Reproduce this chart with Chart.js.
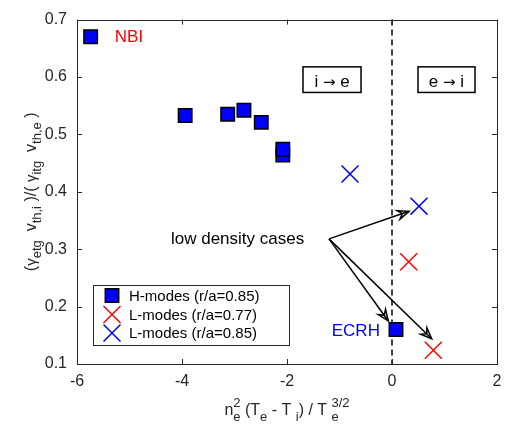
<!DOCTYPE html>
<html><head><meta charset="utf-8">
<script src="https://cdn.jsdelivr.net/npm/chart.js@4"></script>
<style>html,body{margin:0;padding:0;background:#fff;overflow:hidden}canvas{display:block}</style>
</head><body>
<canvas id="c" width="511" height="428"></canvas>
<script>
const FONT = '"Liberation Sans", Arial, Helvetica, sans-serif';
const xTicks = [-6, -4, -2, 0, 2];
const yTicks = [0.1, 0.2, 0.3, 0.4, 0.5, 0.6, 0.7];
const seriesNames = ['H-modes (r/a=0.85)', 'L-modes (r/a=0.77)', 'L-modes (r/a=0.85)'];
// H-modes (r/a=0.85)
const hX = [-5.74, -3.94, -3.13, -2.82, -2.49, -2.08, -2.08, 0.076];
const hY = [0.670, 0.533, 0.535, 0.542, 0.521, 0.464, 0.474, 0.160];
// L-modes (r/a=0.77)
const l77X = [0.318, 0.787];
const l77Y = [0.278, 0.124];
// L-modes (r/a=0.85)
const l85X = [-0.80, 0.514];
const l85Y = [0.431, 0.375];
// annotation arrows (data coords)
const arrowFrom = [-1.2, 0.318];
const arrowToX = [0.324, -0.07, 0.756];
const arrowToY = [0.366, 0.175, 0.144];

function pts(xs, ys) { return xs.map((v, i) => ({ x: v, y: ys[i] })); }

function tokW(ctx, t, main, scr) {
  if (t.t !== undefined) { ctx.font = `${t.size || main}px ${t.fam || FONT}`; return ctx.measureText(t.t).width; }
  ctx.font = `${scr}px ${FONT}`;
  return Math.max(t.sup ? ctx.measureText(t.sup).width : 0, t.sub ? ctx.measureText(t.sub).width : 0);
}
function richW(ctx, toks, main, scr) { let w = 0; for (const t of toks) w += tokW(ctx, t, main, scr); return w; }
function drawRich(ctx, toks, x, y, main, scr, up, down) {
  let cx = x;
  ctx.textBaseline = 'alphabetic'; ctx.textAlign = 'left';
  for (const t of toks) {
    const w = tokW(ctx, t, main, scr);
    if (t.t !== undefined) { ctx.font = `${t.size || main}px ${t.fam || FONT}`; ctx.fillText(t.t, cx, y + (t.dy || 0)); }
    else {
      ctx.font = `${scr}px ${FONT}`;
      if (t.sup) ctx.fillText(t.sup, cx, y - up);
      if (t.sub) ctx.fillText(t.sub, cx, y + down);
    }
    cx += w;
  }
}
function arrow(ctx, x0, y0, x1, y1) {
  const ang = Math.atan2(y1 - y0, x1 - x0);
  const L = 11, W = 4.5, N = 7;
  const c = Math.cos(ang), s = Math.sin(ang);
  ctx.beginPath(); ctx.moveTo(x0, y0); ctx.lineTo(x1, y1); ctx.stroke();
  const bx = x1 - L * c, by = y1 - L * s;
  ctx.beginPath();
  ctx.moveTo(x1, y1);
  ctx.lineTo(bx - W * s, by + W * c);
  ctx.lineTo(x1 - N * c, y1 - N * s);
  ctx.lineTo(bx + W * s, by - W * c);
  ctx.closePath();
  ctx.stroke();
}
function marker(ctx, style, x, y, color) {
  ctx.save();
  if (style === 'rect') {
    ctx.fillStyle = '#0000ff'; ctx.strokeStyle = '#000'; ctx.lineWidth = 1.5;
    ctx.fillRect(x - 6.7, y - 6.7, 13.4, 13.4); ctx.strokeRect(x - 6.7, y - 6.7, 13.4, 13.4);
  } else {
    ctx.strokeStyle = color; ctx.lineWidth = 1.5; const d = 8.5;
    ctx.beginPath(); ctx.moveTo(x - d, y - d); ctx.lineTo(x + d, y + d);
    ctx.moveTo(x - d, y + d); ctx.lineTo(x + d, y - d); ctx.stroke();
  }
  ctx.restore();
}

const deco = {
  id: 'deco',
  beforeDatasetsDraw(chart) {
    const { ctx, chartArea: a, scales: { x } } = chart;
    ctx.save();
    ctx.strokeStyle = '#000'; ctx.lineWidth = 1.5; ctx.setLineDash([6, 4]);
    const px = x.getPixelForValue(0);
    ctx.beginPath(); ctx.moveTo(px, a.top); ctx.lineTo(px, a.bottom); ctx.stroke();
    ctx.restore();
  },
  afterDatasetsDraw(chart) {
    const { ctx, chartArea: a, scales: { x, y } } = chart;
    ctx.save();
    // axes box and inward ticks
    ctx.strokeStyle = '#262626'; ctx.lineWidth = 1;
    ctx.strokeRect(Math.round(a.left) + 0.5, Math.round(a.top) + 0.5, Math.round(a.right - a.left), Math.round(a.bottom - a.top));
    ctx.beginPath();
    for (const v of xTicks) {
      const px = Math.round(x.getPixelForValue(v)) + 0.5;
      ctx.moveTo(px, a.bottom); ctx.lineTo(px, a.bottom - 5);
      ctx.moveTo(px, a.top); ctx.lineTo(px, a.top + 5);
    }
    for (const v of yTicks) {
      const py = Math.round(y.getPixelForValue(v)) + 0.5;
      ctx.moveTo(a.left, py); ctx.lineTo(a.left + 5, py);
      ctx.moveTo(a.right, py); ctx.lineTo(a.right - 5, py);
    }
    ctx.stroke();

    // text annotations
    ctx.textBaseline = 'middle';
    ctx.font = `17px ${FONT}`;
    ctx.fillStyle = '#ff0000'; ctx.textAlign = 'left';
    ctx.fillText('NBI', x.getPixelForValue(-5.28), y.getPixelForValue(0.669));
    ctx.fillStyle = '#0000ff'; ctx.textAlign = 'right';
    ctx.fillText('ECRH', x.getPixelForValue(-0.23), y.getPixelForValue(0.157));
    ctx.fillStyle = '#000'; ctx.textAlign = 'left';
    ctx.fillText('low density cases', x.getPixelForValue(-4.21), y.getPixelForValue(0.318));

    // boxed labels
    const boxes = [['i', 'e', -1.695, -0.59], ['e', 'i', 0.495, 1.581]];
    for (const [a1, a2, x0, x1] of boxes) {
      const l = x.getPixelForValue(x0), r = x.getPixelForValue(x1);
      const t = y.getPixelForValue(0.6177), b = y.getPixelForValue(0.5731);
      ctx.strokeStyle = '#000'; ctx.lineWidth = 1.5;
      ctx.strokeRect(l, t, r - l, b - t);
      ctx.fillStyle = '#000';
      const toks = [{ t: a1 + ' ' }, { t: '\u2192', size: 15, fam: '"DejaVu Sans", sans-serif', dy: 0 }, { t: ' ' + a2 }];
      const w = richW(ctx, toks, 17, 13);
      drawRich(ctx, toks, (l + r) / 2 - w / 2, (t + b) / 2 + 7, 17, 13, 0, 0);
    }

    // arrows
    ctx.strokeStyle = '#000'; ctx.lineWidth = 1.5; ctx.lineJoin = 'miter';
    const ox = x.getPixelForValue(arrowFrom[0]), oy = y.getPixelForValue(arrowFrom[1]);
    for (let i = 0; i < arrowToX.length; i++) {
      arrow(ctx, ox, oy, x.getPixelForValue(arrowToX[i]), y.getPixelForValue(arrowToY[i]));
    }

    // legend
    const lx = 93, ly = 285, lw = 196, lh = 60;
    ctx.fillStyle = '#fff'; ctx.fillRect(lx, ly, lw, lh);
    ctx.strokeStyle = '#262626'; ctx.lineWidth = 1;
    ctx.strokeRect(lx + 0.5, ly + 0.5, lw, lh);
    const rows = [295.5, 314.5, 333];
    const styles = [['rect', '#0000ff'], ['cross', '#ff0000'], ['cross', '#0000ff']];
    for (let i = 0; i < 3; i++) {
      marker(ctx, styles[i][0], 112, rows[i], styles[i][1]);
      ctx.fillStyle = '#000'; ctx.font = `15px ${FONT}`; ctx.textAlign = 'left'; ctx.textBaseline = 'middle';
      ctx.fillText(seriesNames[i], 129, rows[i] + 1);
    }

    // x axis title
    ctx.fillStyle = '#262626';
    const xt = [{ t: 'n' }, { sup: '2', sub: 'e' }, { t: ' (T' }, { sub: 'e' }, { t: ' - T ' }, { sub: 'i' }, { t: ') / T ' }, { sup: '3/2', sub: 'e' }];
    const xw = richW(ctx, xt, 16, 13);
    drawRich(ctx, xt, (a.left + a.right) / 2 - xw / 2, 415, 16, 13, 8, 6);

    // y axis title (rotated)
    const yt = [{ t: '(' }, { t: '\u03b3', size: 15 }, { sub: 'etg' }, { t: '  v' }, { sub: 'th,i' }, { t: ' )/( ' }, { t: '\u03b3', size: 15 }, { sub: 'itg' }, { t: '  v' }, { sub: 'th,e' }, { t: ' )' }];
    const yw = richW(ctx, yt, 16, 13);
    ctx.translate(36, (a.top + a.bottom) / 2);
    ctx.rotate(-Math.PI / 2);
    drawRich(ctx, yt, -yw / 2, 0, 16, 13, 8, 5);
    ctx.restore();
  }
};

new Chart(document.getElementById('c'), {
  type: 'scatter',
  data: {
    datasets: [
      { label: seriesNames[0], data: pts(hX, hY), pointStyle: 'rect', pointRadius: 9.5, pointHoverRadius: 9.5,
        backgroundColor: '#0000ff', borderColor: '#000', borderWidth: 1.5 },
      { label: seriesNames[1], data: pts(l77X, l77Y), pointStyle: 'crossRot', pointRadius: 12, pointHoverRadius: 12,
        borderColor: '#ff0000', backgroundColor: '#ff0000', borderWidth: 1.5 },
      { label: seriesNames[2], data: pts(l85X, l85Y), pointStyle: 'crossRot', pointRadius: 12, pointHoverRadius: 12,
        borderColor: '#0000ff', backgroundColor: '#0000ff', borderWidth: 1.5 }
    ]
  },
  options: {
    responsive: false, animation: false, devicePixelRatio: 1, events: [],
    layout: { padding: { top: 14, right: 14, left: 0, bottom: 0 } },
    plugins: { legend: { display: false }, tooltip: { enabled: false } },
    scales: {
      x: {
        type: 'linear', min: -6, max: 2,
        afterBuildTicks: s => { s.ticks = xTicks.map(v => ({ value: v })); },
        afterFit: s => { s.height = 64; },
        ticks: { font: { family: FONT, size: 16 }, color: '#262626', padding: 8, maxRotation: 0, callback: v => String(v) },
        grid: { display: false, drawTicks: false }, border: { display: false }
      },
      y: {
        type: 'linear', min: 0.1, max: 0.7,
        afterBuildTicks: s => { s.ticks = yTicks.map(v => ({ value: v })); },
        afterFit: s => { s.width = 77; },
        ticks: { font: { family: FONT, size: 16 }, color: '#262626', padding: 10, callback: v => Number(v).toFixed(1) },
        grid: { display: false, drawTicks: false }, border: { display: false }
      }
    }
  },
  plugins: [deco]
});
</script>
</body></html>
